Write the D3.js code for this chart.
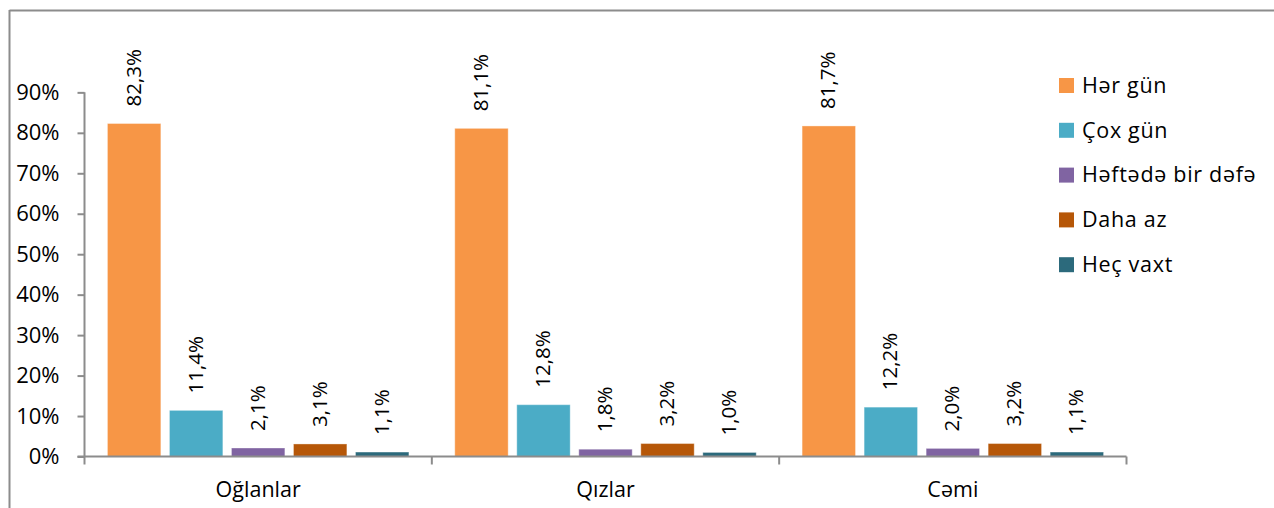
<!DOCTYPE html>
<html>
<head>
<meta charset="utf-8">
<script src="https://cdn.jsdelivr.net/npm/d3@7"></script>
<style>
  html, body { margin: 0; padding: 0; background: #fff; }
  svg { display: block; font-family: "Open Sans", Lato, sans-serif; }
</style>
</head>
<body>
<svg id="chart" width="1274" height="508"></svg>
<script>
// Groups along the x axis
const categories = ["Oğlanlar", "Qızlar", "Cəmi"];
// Answer options (series)
const seriesNames = ["Hər gün", "Çox gün", "Həftədə bir dəfə", "Daha az", "Heç vaxt"];
// Share of respondents, one array per series, in category order
const herGun = [0.823, 0.811, 0.817];
const coxGun = [0.114, 0.128, 0.122];
const heftede = [0.021, 0.018, 0.020];
const dahaAz = [0.031, 0.032, 0.032];
const hecVaxt = [0.011, 0.010, 0.011];
const yTicks = [0, 0.1, 0.2, 0.3, 0.4, 0.5, 0.6, 0.7, 0.8, 0.9];

const seriesValues = [herGun, coxGun, heftede, dahaAz, hecVaxt];
const colors = ["#F79646", "#4BACC6", "#8064A2", "#B65708", "#2C6A7C"];

const svg = d3.select("#chart");
const axisColor = "#8C8C8C";

// chart frame (top and left edges visible)
svg.append("line").attr("x1", 9.5).attr("x2", 1274).attr("y1", 10.5).attr("y2", 10.5)
  .attr("stroke", axisColor).attr("stroke-width", 2);
svg.append("line").attr("x1", 9.5).attr("x2", 9.5).attr("y1", 10).attr("y2", 508)
  .attr("stroke", axisColor).attr("stroke-width", 2);

const plotLeft = 84.5, plotRight = 1126.5, plotBottom = 456.5;

const x0 = d3.scaleBand().domain(categories).range([plotLeft, plotRight]).paddingInner(0).paddingOuter(0);
const x1 = d3.scaleBand().domain(seriesNames).range([0, x0.bandwidth()])
  .paddingInner(0.139).paddingOuter(0.37);
const y = d3.scaleLinear().domain([0, 1]).range([plotBottom, 51.9]);

// y axis
const yAxis = svg.append("g").attr("transform", `translate(${plotLeft},0)`)
  .call(d3.axisLeft(y).tickValues(yTicks).tickSize(7).tickPadding(18)
    .tickFormat(d => Math.round(d * 100) + "%"));
yAxis.select(".domain").attr("d", `M0,${y(0.9)}V${plotBottom}`).attr("stroke", axisColor).attr("stroke-width", 2);
yAxis.selectAll(".tick line").attr("stroke", axisColor).attr("stroke-width", 2);
yAxis.selectAll(".tick text").attr("font-size", 22).attr("fill", "#000").attr("font-family", "Open Sans");

// bars
const groups = svg.append("g").selectAll("g").data(categories).join("g")
  .attr("transform", d => `translate(${x0(d)},0)`);

seriesNames.forEach((s, si) => {
  groups.append("rect")
    .attr("x", x1(s))
    .attr("width", x1.bandwidth())
    .attr("y", (d, ci) => y(seriesValues[si][ci]))
    .attr("height", (d, ci) => plotBottom - y(seriesValues[si][ci]))
    .attr("fill", colors[si])
    .attr("stroke", "#fff").attr("stroke-opacity", 0.35).attr("stroke-width", 1);

  groups.append("text")
    .attr("transform", (d, ci) => `translate(${x1(s) + x1.bandwidth() / 2 + 6.5},${y(seriesValues[si][ci]) - 17}) rotate(-90)`)
    .attr("text-anchor", "start")
    .attr("font-size", 20.5)
    .attr("fill", "#000")
    .text((d, ci) => d3.format(".1f")(seriesValues[si][ci] * 100).replace(".", ",") + "%");
});

// x axis
const xAxis = svg.append("g").attr("transform", `translate(0,${plotBottom})`)
  .call(d3.axisBottom(x0).tickSize(0).tickPadding(25));
xAxis.select(".domain").attr("d", `M${plotLeft - 7},0H${plotRight}`).attr("stroke", axisColor).attr("stroke-width", 2);
xAxis.selectAll(".tick text").attr("font-size", 21.5).attr("fill", "#000").attr("font-family", "Open Sans");
// group separators
const seps = [plotLeft].concat(categories.map(c => x0(c) + x0.bandwidth()));
svg.append("g").selectAll("line").data(seps).join("line")
  .attr("x1", d => d).attr("x2", d => d)
  .attr("y1", plotBottom).attr("y2", plotBottom + 8)
  .attr("stroke", axisColor).attr("stroke-width", 2);

// legend
const legend = svg.append("g").attr("transform", "translate(1059,0)");
const rows = legend.selectAll("g").data(seriesNames).join("g")
  .attr("transform", (d, i) => `translate(0,${85 + i * 44.8})`);
rows.append("rect").attr("x", 0).attr("y", -7).attr("width", 15).attr("height", 15)
  .attr("fill", (d, i) => colors[i]);
rows.append("text").attr("x", 23).attr("y", 0).attr("dy", "0.36em")
  .attr("font-size", 21.5).attr("letter-spacing", 0.7).attr("fill", "#000").text(d => d);
</script>
</body>
</html>
